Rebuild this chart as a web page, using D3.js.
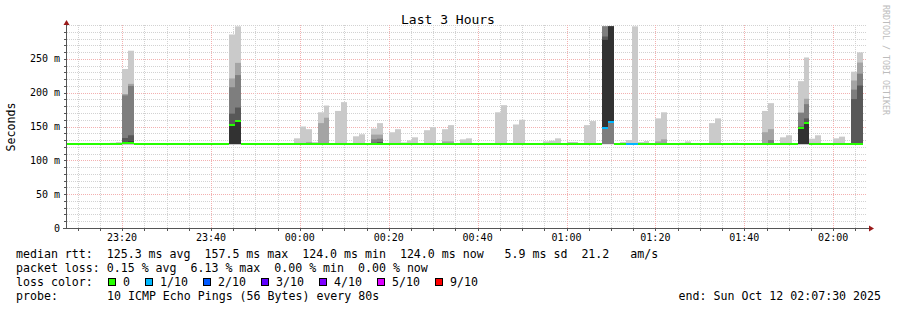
<!DOCTYPE html>
<html>
<head>
<meta charset="utf-8">
<script src="https://cdn.jsdelivr.net/npm/d3@7"></script>
<style>
  body { margin: 0; background: #fff; }
  text { font-family: "DejaVu Sans Mono", monospace; white-space: pre; }
</style>
</head>
<body>
<svg id="chart" width="897" height="310"></svg>
<script>
// time window (3 hours) and 80 s probe steps
const startTime = new Date(2025, 9, 11, 23, 7, 30);
const endTime = new Date(2025, 9, 12, 2, 7, 30);
const firstStep = new Date(2025, 9, 11, 23, 6, 40);
const stepSec = 80;

// median rtt per step (ms), step 0..134
const medianMs = [
  124, 124, 124, 124, 124, 124, 124, 124, 124, 124, 125.5, 125.5, 124, 124, 124,
  124, 124, 124, 124, 124, 124, 124, 124, 124, 124, 124, 124, 124, 152, 158,
  124, 124, 124, 124, 124, 124, 124, 124, 124, 124, 124, 124, 124, 124, 124,
  124, 124, 124, 124, 124, 124, 124, 124, 124, 124, 124, 124, 124, 124, 124,
  124, 124, 124, 124, 124, 124, 124, 124, 124, 124, 124, 124, 124, 124, 124,
  124, 124, 124, 124, 124, 124, 124, 124, 124, 124, 124, 124, 124, 124, 124,
  124, 148, 157, 124, 124, 124, 124, 124, 124, 124, 124, 124, 124, 124, 124,
  124, 124, 124, 124, 124, 124, 124, 124, 124, 124, 124, 124, 124, 124, 124,
  124, 124, 124, 124, 148.5, 155.5, 124, 124, 124, 124, 124, 124, 124, 124, 124
];

// lost pings out of 10 per step
const lossCount = [
  0, 0, 0, 0, 0, 0, 0, 0, 0, 0, 0, 0, 0, 0, 0,
  0, 0, 0, 0, 0, 0, 0, 0, 0, 0, 0, 0, 0, 0, 0,
  0, 0, 0, 0, 0, 0, 0, 0, 0, 0, 0, 0, 0, 0, 0,
  0, 0, 0, 0, 0, 0, 0, 0, 0, 0, 0, 0, 0, 0, 0,
  0, 0, 0, 0, 0, 0, 0, 0, 0, 0, 0, 0, 0, 0, 0,
  0, 0, 0, 0, 0, 0, 0, 0, 0, 0, 0, 0, 0, 0, 0,
  0, 1, 1, 0, 0, 1, 1, 0, 0, 0, 0, 0, 0, 0, 0,
  0, 0, 0, 0, 0, 0, 0, 0, 0, 0, 0, 0, 0, 0, 0,
  0, 0, 0, 0, 0, 0, 0, 0, 0, 0, 0, 0, 0, 0, 0
];

// steps that show smoke, and their 10 sorted pings (ms)
const smokeStep = [8, 9, 10, 11, 28, 29, 39, 40, 41, 42, 43, 44, 46, 47, 49, 50, 52, 53,
  55, 56, 57, 58, 59, 61, 62, 64, 65, 67, 68, 73, 74, 76, 77, 81, 82, 83, 85, 86, 88, 89,
  91, 92, 94, 95, 96, 97, 98, 100, 101, 104, 105, 109, 110, 113, 118, 119, 121, 122,
  124, 125, 126, 127, 130, 131, 133, 134];
const smokePings = [
  [124, 124, 124, 124, 124, 124, 124, 124, 124, 126],
  [124, 124, 124, 124, 124, 124, 124, 124, 124, 127],
  [124, 124, 124, 124, 124, 126, 133, 196, 198, 235],
  [124, 124, 124, 124, 124, 128, 137, 210, 213, 262],
  [124, 124, 124, 124, 124, 152, 169, 208, 221, 286],
  [124, 124, 124, 124, 124, 158, 178, 226, 244, 298],
  [124, 124, 124, 124, 124, 124, 124, 124, 124, 132.5],
  [124, 124, 124, 124, 124, 124, 124, 124, 124, 150],
  [124, 124, 124, 124, 124, 124, 124, 124, 127, 146],
  [124, 124, 124, 124, 124, 124, 124, 124, 124, 127],
  [124, 124, 124, 124, 124, 124, 124, 124, 155, 171],
  [124, 124, 124, 124, 124, 124, 124, 124, 163, 181],
  [124, 124, 124, 124, 124, 124, 124, 124, 124, 173],
  [124, 124, 124, 124, 124, 124, 124, 124, 124, 186],
  [124, 124, 124, 124, 124, 124, 124, 124, 124, 135.5],
  [124, 124, 124, 124, 124, 124, 124, 124, 124, 138.5],
  [124, 124, 124, 124, 124, 124, 126, 131, 138, 147],
  [124, 124, 124, 124, 124, 124, 127, 132, 138, 155],
  [124, 124, 124, 124, 124, 124, 124, 124, 124, 141.5],
  [124, 124, 124, 124, 124, 124, 124, 124, 124, 146],
  [124, 124, 124, 124, 124, 124, 124, 124, 124, 126.5],
  [124, 124, 124, 124, 124, 124, 124, 124, 124, 129.5],
  [124, 124, 124, 124, 124, 124, 124, 124, 124, 134],
  [124, 124, 124, 124, 124, 124, 124, 124, 124, 144.5],
  [124, 124, 124, 124, 124, 124, 124, 124, 124, 149],
  [124, 124, 124, 124, 124, 124, 124, 124, 128, 146],
  [124, 124, 124, 124, 124, 124, 124, 124, 128, 152],
  [124, 124, 124, 124, 124, 124, 124, 124, 124, 131],
  [124, 124, 124, 124, 124, 124, 124, 124, 124, 132.5],
  [124, 124, 124, 124, 124, 124, 124, 124, 124, 171],
  [124, 124, 124, 124, 124, 124, 124, 124, 124, 181.5],
  [124, 124, 124, 124, 124, 124, 124, 124, 124, 153],
  [124, 124, 124, 124, 124, 124, 124, 124, 124, 160],
  [124, 124, 124, 124, 124, 124, 124, 124, 124, 128],
  [124, 124, 124, 124, 124, 124, 124, 124, 124, 129],
  [124, 124, 124, 124, 124, 124, 124, 124, 124, 132.5],
  [124, 124, 124, 124, 124, 124, 124, 124, 126, 127],
  [124, 124, 124, 124, 124, 124, 124, 124, 126, 127],
  [124, 124, 124, 124, 124, 124, 124, 124, 124, 152],
  [124, 124, 124, 124, 124, 124, 124, 124, 124, 158],
  [124, 124, 124, 147, 148, 278, 283, 298, 298, 298],
  [124, 124, 124, 156, 157, 298, 298, 298, 298, 298],
  [124, 124, 124, 124, 124, 124, 124, 124, 124, 127],
  [124, 124, 124, 124, 124, 124, 124, 124, 124, 130],
  [124, 124, 124, 124, 124, 124, 124, 124, 124, 298],
  [124, 124, 124, 124, 124, 124, 124, 124, 124, 127],
  [124, 124, 124, 124, 124, 124, 124, 124, 124, 128.5],
  [124, 124, 124, 124, 124, 124, 124, 124, 128, 162],
  [124, 124, 124, 124, 124, 124, 124, 124, 131, 171],
  [124, 124, 124, 124, 124, 124, 124, 124, 124, 126],
  [124, 124, 124, 124, 124, 124, 124, 124, 124, 128],
  [124, 124, 124, 124, 124, 124, 124, 124, 124, 155],
  [124, 124, 124, 124, 124, 124, 124, 124, 124, 162],
  [124, 124, 124, 124, 124, 124, 124, 124, 124, 126],
  [124, 124, 124, 124, 124, 124, 124, 124, 141.5, 173],
  [124, 124, 124, 124, 124, 124, 124, 130, 146, 184.5],
  [124, 124, 124, 124, 124, 124, 124, 124, 124, 134],
  [124, 124, 124, 124, 124, 124, 124, 124, 124, 137],
  [124, 124, 124, 124, 124, 148, 150, 170, 171, 217],
  [124, 124, 124, 124, 124, 156, 162, 183, 191, 252],
  [124, 124, 124, 124, 124, 124, 124, 124, 124, 132],
  [124, 124, 124, 124, 124, 124, 124, 124, 124, 137],
  [124, 124, 124, 124, 124, 124, 124, 124, 124, 132.5],
  [124, 124, 124, 124, 124, 124, 124, 124, 124, 135],
  [124, 124, 124, 124, 124, 125, 190.5, 204.5, 218, 231],
  [124, 124, 124, 124, 124, 125, 210.5, 228, 244.5, 259.5]
];

// loss colour legend
const lossLabels = ["0", "1/10", "2/10", "3/10", "4/10", "5/10", "9/10"];
const lossColors = ["#26ff00", "#00b8ff", "#0059ff", "#5e00ff", "#7e00ff", "#dd00ff", "#ff0000"];
const lossLimits = [0, 1, 2, 3, 4, 5, 9];

const yTicks = [0, 50, 100, 150, 200, 250];
const yTickLabels = ["0", "50 m", "100 m", "150 m", "200 m", "250 m"];

const svg = d3.select('#chart');
svg.append('rect').attr('width', 897).attr('height', 310).attr('fill', '#fff');

const x = d3.scaleTime().domain([startTime, endTime]).range([66.5, 866.5]);
const y = d3.scaleLinear().domain([0, 300]).range([228, 25]);
const px = v => Math.round(v);

const plot = svg.append('g');
plot.append('clipPath').attr('id', 'clip')
  .append('rect').attr('x', 67).attr('y', 20).attr('width', 800).attr('height', 209);

// grid
const minorCol = '#d2d2d2', majorCol = '#f3b0b0';
const grid = plot.append('g');
const minorY = d3.range(10, 301, 10);
grid.selectAll('.hmin').data(minorY).enter().append('line')
  .attr('x1', 67).attr('x2', 867)
  .attr('y1', d => px(y(d)) + 0.5).attr('y2', d => px(y(d)) + 0.5)
  .attr('stroke', (d) => (d % 50 === 0 && d < 300) ? majorCol : minorCol)
  .attr('stroke-dasharray', '1,1');
const minorX = d3.timeMinute.every(5).range(startTime, endTime);
grid.selectAll('.vmin').data(minorX).enter().append('line')
  .attr('x1', d => px(x(d)) + 0.5).attr('x2', d => px(x(d)) + 0.5)
  .attr('y1', y(300)).attr('y2', 228)
  .attr('stroke', d => d.getMinutes() % 20 === 0 ? majorCol : minorCol)
  .attr('stroke-dasharray', '1,1');

// smoke
const shade = i => { const c = Math.floor(190 / 5 * (5 - i)) + 50; return d3.rgb(c, c, c).formatHex(); };
const stepX = k => px(x(new Date(firstStep.getTime() + k * stepSec * 1000)));
const smoke = plot.append('g').attr('clip-path', 'url(#clip)');
smokeStep.forEach((k, j) => {
  const p = smokePings[j];
  for (let i = 1; i <= 5; i++) {
    const lo = p[i - 1], hi = p[10 - i];
    if (hi <= lo) continue;
    smoke.append('rect')
      .attr('x', stepX(k)).attr('width', stepX(k + 1) - stepX(k))
      .attr('y', y(hi)).attr('height', y(lo) - y(hi))
      .attr('fill', shade(i));
  }
});

// median line coloured by loss
const lossColor = n => { let c = lossColors[0]; lossLimits.forEach((l, i) => { if (n >= l) c = lossColors[i]; }); return c; };
plot.append('g').attr('clip-path', 'url(#clip)')
  .selectAll('rect').data(medianMs).enter().append('rect')
  .attr('x', (d, k) => stepX(k)).attr('width', (d, k) => stepX(k + 1) - stepX(k))
  .attr('y', d => Math.round(y(d)) - 1).attr('height', 2)
  .attr('fill', (d, k) => lossColor(lossCount[k]));

// axes
const axisCol = '#555';
svg.append('line').attr('x1', 66.5).attr('x2', 66.5).attr('y1', 228).attr('y2', 24).attr('stroke', axisCol);
svg.append('line').attr('x1', 63).attr('x2', 870).attr('y1', 228.5).attr('y2', 228.5).attr('stroke', axisCol);
svg.append('path').attr('d', 'M63.5,25 L66.5,20 L69.5,25 Z').attr('fill', '#9a1a1a');
svg.append('path').attr('d', 'M869,225.5 L874,228.5 L869,231.5 Z').attr('fill', '#9a1a1a');
svg.selectAll('.ytk').data(minorY.filter(d => d < 300)).enter().append('line')
  .attr('x1', 64).attr('x2', 66).attr('y1', d => px(y(d)) + 0.5).attr('y2', d => px(y(d)) + 0.5)
  .attr('stroke', axisCol);
svg.selectAll('.xtk').data(minorX).enter().append('line')
  .attr('x1', d => px(x(d)) + 0.5).attr('x2', d => px(x(d)) + 0.5).attr('y1', 229).attr('y2', 231)
  .attr('stroke', axisCol);

// tick labels
svg.selectAll('.ylab').data(yTicks).enter().append('text')
  .attr('x', 60).attr('y', d => y(d) + 3.5).attr('text-anchor', 'end')
  .attr('font-size', 10).attr('fill', '#000')
  .text((d, i) => yTickLabels[i]);
const xLabels = d3.timeMinute.every(20).range(startTime, endTime);
svg.selectAll('.xlab').data(xLabels).enter().append('text')
  .attr('x', d => x(d)).attr('y', 241).attr('text-anchor', 'middle')
  .attr('font-size', 10).attr('fill', '#000')
  .text(d3.timeFormat('%H:%M'));

// titles
svg.append('text').attr('x', 448).attr('y', 24).attr('text-anchor', 'middle')
  .attr('font-size', 13).text('Last 3 Hours');
svg.append('text').attr('transform', 'translate(15,127) rotate(-90)').attr('text-anchor', 'middle')
  .attr('font-size', 11.6).text('Seconds');
svg.append('text').attr('transform', 'translate(883,5) rotate(90)')
  .attr('font-size', 8.3).attr('fill', '#bcbcbc').text('RRDTOOL / TOBI OETIKER');

// legend
const fs = 11.6;
const leg = svg.append('g').attr('font-size', fs).attr('fill', '#000');
leg.append('text').attr('x', 16).attr('y', 258)
  .text('median rtt:  125.3 ms avg  157.5 ms max  124.0 ms min  124.0 ms now   5.9 ms sd  21.2   am/s');
leg.append('text').attr('x', 16).attr('y', 272)
  .text('packet loss: 0.15 % avg  6.13 % max  0.00 % min  0.00 % now');
leg.append('text').attr('x', 16).attr('y', 286).text('loss color:');
leg.append('text').attr('x', 16).attr('y', 300).text('probe:');
leg.append('text').attr('x', 107).attr('y', 300).text('10 ICMP Echo Pings (56 Bytes) every 80s');
leg.append('text').attr('x', 881).attr('y', 300).attr('text-anchor', 'end')
  .text('end: Sun Oct 12 02:07:30 2025');
let lx = 108;
lossLabels.forEach((lab, i) => {
  leg.append('rect').attr('x', Math.round(lx) + 0.5).attr('y', 278.5).attr('width', 7).attr('height', 7)
    .attr('fill', lossColors[i]).attr('stroke', '#000');
  leg.append('text').attr('x', lx + 15).attr('y', 286).text(lab);
  lx += lab.length * 7 + 30;
});
</script>
</body>
</html>
